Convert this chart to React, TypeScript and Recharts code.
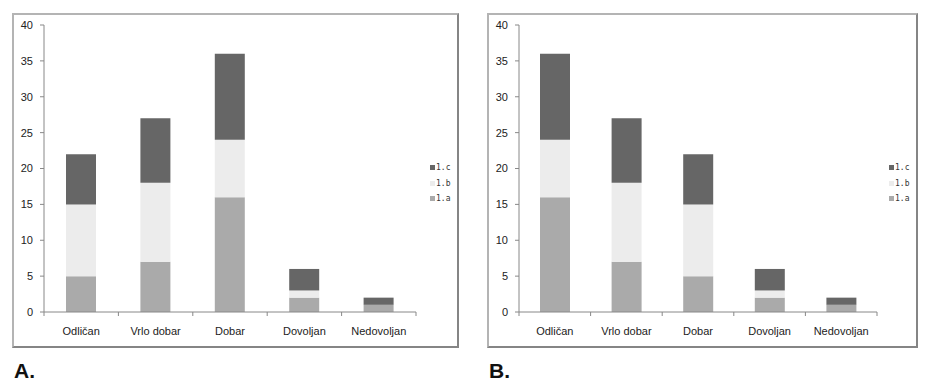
import React from 'react';
import { BarChart, Bar, XAxis, YAxis } from 'recharts';

// grades (shared by both panels)
const categories = ['Odličan', 'Vrlo dobar', 'Dobar', 'Dovoljan', 'Nedovoljan'];
const yTicks = [0, 5, 10, 15, 20, 25, 30, 35, 40];

// panel A
const seriesA1a = [5, 7, 16, 2, 1];
const seriesA1b = [10, 11, 8, 1, 0];
const seriesA1c = [7, 9, 12, 3, 1];

// panel B
const seriesB1a = [16, 7, 5, 2, 1];
const seriesB1b = [8, 11, 10, 1, 0];
const seriesB1c = [12, 9, 7, 3, 1];

const seriesNames = ['1.a', '1.b', '1.c'];
const colors = ['#aaaaaa', '#ececec', '#666666'];

const FONT = '"Liberation Sans", Arial, sans-serif';

const buildRows = (a: number[], b: number[], c: number[]) =>
    categories.map((name, i) => ({ name, '1.a': a[i], '1.b': b[i], '1.c': c[i] }));

const CategoryTick = (props: any) => {
    const { x, y, payload, band } = props;
    const last = payload.index === categories.length - 1;
    return (
        <g>
            <line x1={x - band / 2} x2={x - band / 2} y1={y} y2={y + 4} stroke="#888" />
            {last && <line x1={x + band / 2} x2={x + band / 2} y1={y} y2={y + 4} stroke="#888" />}
            <text x={x} y={y + 19} textAnchor="middle" dominantBaseline="central" fontSize={11} fill="#222" fontFamily={FONT}>
                {payload.value}
            </text>
        </g>
    );
};

// Excel-style legend, top series first
const LegendBox = ({ left }: { left: number }) => (
    <div style={{ position: 'absolute', left, top: 160, fontFamily: '"DejaVu Sans Mono", monospace', fontSize: 8, color: '#333' }}>
        {[2, 1, 0].map((i) => (
            <div key={seriesNames[i]} style={{ display: 'flex', alignItems: 'center', height: 15.5 }}>
                <span style={{ display: 'inline-block', width: 5, height: 5, background: colors[i], marginRight: 1 }} />
                {seriesNames[i]}
            </div>
        ))}
    </div>
);

interface PanelProps {
    rows: any[];
    left: number;
    width: number;
    marginRight: number;
    legendLeft: number;
    letter: string;
}

const Panel: React.FC<PanelProps> = ({ rows, left, width, marginRight, legendLeft, letter }) => {
    const height = 335;
    const plotW = width - 32 - marginRight;
    const band = plotW / categories.length;
    return (
        <>
            <div
                style={{
                    position: 'absolute', left, top: 13, width: width - 4, height: height - 4,
                    borderTop: '2px solid #b4b4b4', borderLeft: '2px solid #b4b4b4',
                    borderRight: '2px solid #858585', borderBottom: '2px solid #858585',
                }}
            />
            <div style={{ position: 'absolute', left, top: 13 }}>
                <BarChart width={width} height={height} data={rows} margin={{ top: 12, right: marginRight, bottom: 6, left: 0 }} barSize={30}>
                    <YAxis
                        width={32}
                        domain={[0, 40]}
                        ticks={yTicks}
                        interval={0}
                        tickSize={4}
                        tickMargin={7}
                        stroke="#888"
                        tick={{ fontSize: 11, fill: '#222', fontFamily: FONT }}
                    />
                    <XAxis
                        dataKey="name"
                        height={30}
                        stroke="#888"
                        tickLine={false}
                        tickSize={0}
                        tickMargin={0}
                        interval={0}
                        tick={<CategoryTick band={band} />}
                    />
                    {seriesNames.map((s, i) => (
                        <Bar key={s} dataKey={s} stackId="grade" fill={colors[i]} isAnimationActive={false} />
                    ))}
                </BarChart>
            </div>
            <LegendBox left={legendLeft} />
            <div
                style={{
                    position: 'absolute', left: left + 2, top: 360, fontFamily: FONT, fontWeight: 'bold',
                    fontSize: 21, lineHeight: '21px', color: '#111',
                }}
            >
                {letter}
            </div>
        </>
    );
};

export default function App() {
    return (
        <div style={{ position: 'absolute', left: 0, top: 0, width: 933, height: 386, background: '#fff' }}>
            <Panel rows={buildRows(seriesA1a, seriesA1b, seriesA1c)} left={12} width={447} marginRight={43} legendLeft={430} letter="A." />
            <Panel rows={buildRows(seriesB1a, seriesB1b, seriesB1c)} left={487} width={431} marginRight={41} legendLeft={889} letter="B." />
        </div>
    );
}
